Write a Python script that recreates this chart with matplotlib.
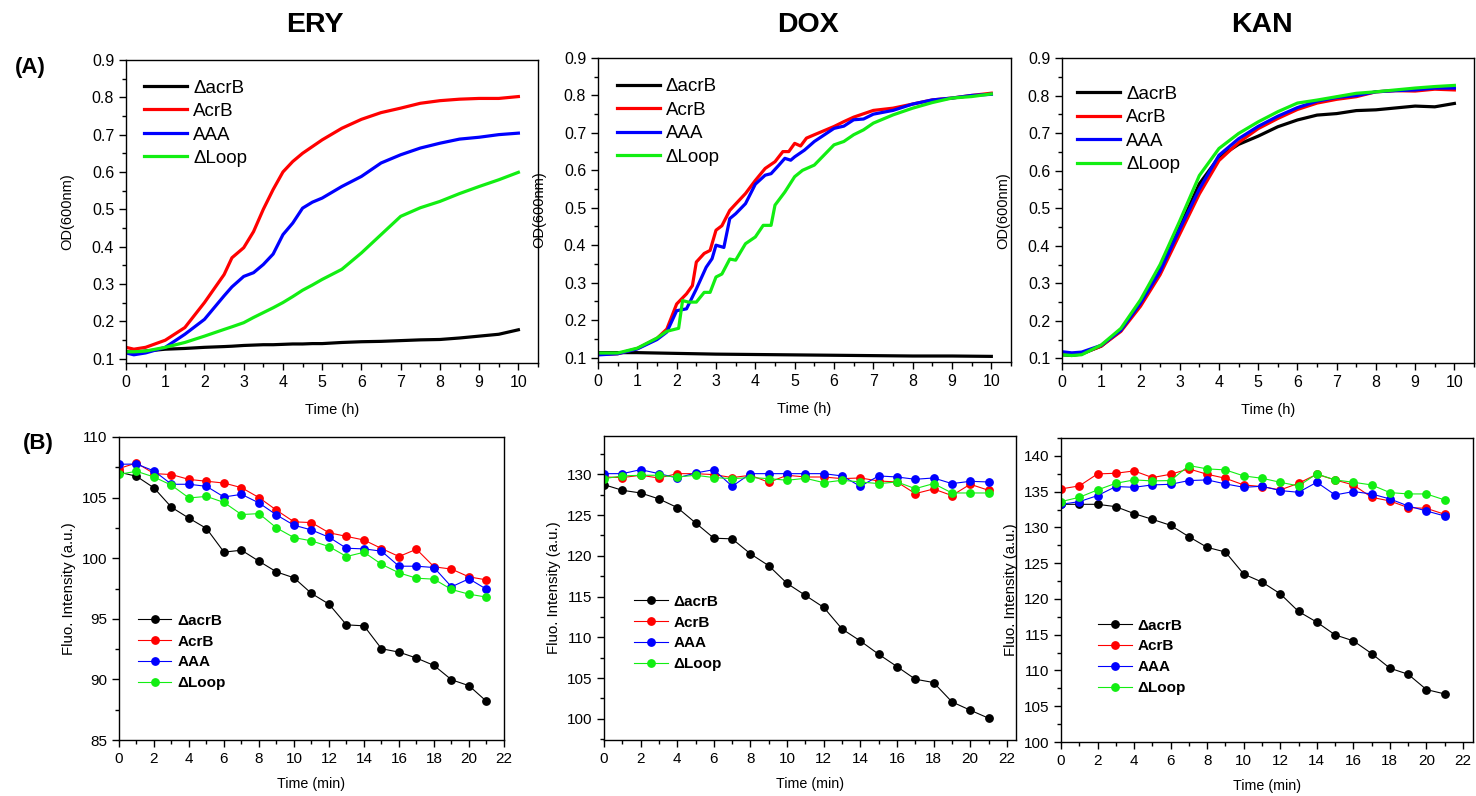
import matplotlib
matplotlib.use("Agg")
import matplotlib.pyplot as plt
from matplotlib.ticker import MultipleLocator

plt.rcParams['font.family'] = ['Liberation Sans', 'DejaVu Sans']

# ---------------- growth curves (A) ----------------
strains = ["\u0394acrB", "AcrB", "AAA", "\u0394Loop"]
colors = ["#000000", "#ff0000", "#0000ff", "#12ee12"]

ery_t = [0, 0.2, 0.5, 1, 1.5, 2, 2.5, 2.7, 3, 3.25, 3.5, 3.75, 4, 4.25, 4.5,
         4.75, 5, 5.5, 6, 6.5, 7, 7.5, 8, 8.5, 9, 9.5, 10]
ery_dacrb = [0.118, 0.117, 0.120, 0.125, 0.127, 0.130, 0.132, 0.133, 0.135, 0.136,
             0.137, 0.137, 0.138, 0.139, 0.139, 0.140, 0.140, 0.143, 0.145, 0.146,
             0.148, 0.150, 0.151, 0.155, 0.160, 0.165, 0.177]
ery_acrb = [0.130, 0.125, 0.130, 0.149, 0.183, 0.250, 0.325, 0.370, 0.397, 0.440,
            0.500, 0.553, 0.600, 0.628, 0.650, 0.668, 0.686, 0.717, 0.741, 0.759,
            0.771, 0.784, 0.791, 0.795, 0.797, 0.797, 0.802]
ery_aaa = [0.115, 0.110, 0.115, 0.130, 0.165, 0.205, 0.268, 0.292, 0.320, 0.330,
           0.352, 0.380, 0.432, 0.463, 0.503, 0.519, 0.530, 0.561, 0.588, 0.624,
           0.646, 0.664, 0.677, 0.688, 0.693, 0.700, 0.704]
ery_dloop = [0.118, 0.118, 0.120, 0.130, 0.143, 0.160, 0.178, 0.185, 0.196, 0.210,
             0.223, 0.236, 0.250, 0.266, 0.283, 0.297, 0.312, 0.339, 0.383, 0.432,
             0.481, 0.504, 0.521, 0.542, 0.561, 0.579, 0.599]

dox_dacrb_t = [0, 1, 2, 3, 4, 5, 6, 7, 8, 9, 10]
dox_dacrb = [0.113, 0.113, 0.111, 0.109, 0.108, 0.107, 0.106, 0.105, 0.104, 0.104, 0.103]
dox_acrb_t = [0, 0.5, 1, 1.5, 1.75, 2, 2.25, 2.4, 2.5, 2.7, 2.85, 3, 3.15, 3.35, 3.5,
              3.75, 4, 4.25, 4.5, 4.7, 4.85, 5, 5.15, 5.3, 5.5, 6, 6.25, 6.5, 7, 7.5,
              8, 8.5, 9, 9.5, 10]
dox_acrb = [0.108, 0.110, 0.124, 0.151, 0.176, 0.243, 0.270, 0.292, 0.355, 0.378,
            0.386, 0.440, 0.452, 0.493, 0.510, 0.538, 0.573, 0.605, 0.623, 0.650,
            0.650, 0.672, 0.665, 0.686, 0.695, 0.717, 0.730, 0.742, 0.760, 0.766,
            0.777, 0.788, 0.793, 0.800, 0.806]
dox_aaa_t = [0, 0.5, 1, 1.5, 1.75, 2, 2.25, 2.5, 2.75, 2.9, 3, 3.2, 3.35, 3.5, 3.75,
             4, 4.25, 4.4, 4.6, 4.75, 4.9, 5, 5.25, 5.5, 6, 6.25, 6.5, 6.75, 7, 7.5,
             8, 8.5, 9, 9.5, 10]
dox_aaa = [0.107, 0.110, 0.123, 0.148, 0.168, 0.225, 0.230, 0.283, 0.341, 0.364,
           0.400, 0.394, 0.471, 0.484, 0.511, 0.563, 0.587, 0.591, 0.614, 0.632,
           0.627, 0.636, 0.654, 0.677, 0.712, 0.718, 0.735, 0.737, 0.750, 0.760,
           0.777, 0.788, 0.793, 0.800, 0.803]
dox_dloop_t = [0, 0.5, 1, 1.5, 1.75, 2.05, 2.15, 2.3, 2.5, 2.7, 2.85, 3, 3.15, 3.35,
               3.5, 3.75, 4, 4.2, 4.4, 4.5, 4.75, 5, 5.2, 5.5, 6, 6.25, 6.5, 6.75, 7,
               7.5, 8, 8.5, 9, 9.5, 10]
dox_dloop = [0.112, 0.112, 0.125, 0.152, 0.170, 0.178, 0.252, 0.248, 0.248, 0.274,
             0.274, 0.315, 0.323, 0.363, 0.360, 0.404, 0.422, 0.453, 0.453, 0.507,
             0.542, 0.583, 0.600, 0.614, 0.668, 0.677, 0.695, 0.708, 0.726, 0.748,
             0.766, 0.781, 0.793, 0.797, 0.804]

kan_t = [0, 0.25, 0.5, 1, 1.5, 2, 2.5, 3, 3.5, 4, 4.5, 5, 5.5, 6, 6.5, 7, 7.5, 8,
         8.5, 9, 9.5, 10]
kan_dacrb = [0.110, 0.108, 0.112, 0.133, 0.175, 0.245, 0.335, 0.449, 0.565, 0.636,
             0.670, 0.692, 0.717, 0.735, 0.748, 0.752, 0.760, 0.762, 0.767, 0.772,
             0.770, 0.779]
kan_acrb = [0.112, 0.110, 0.113, 0.133, 0.172, 0.239, 0.323, 0.431, 0.538, 0.627,
            0.675, 0.712, 0.739, 0.763, 0.780, 0.790, 0.797, 0.810, 0.813, 0.812,
            0.817, 0.815]
kan_aaa = [0.118, 0.115, 0.117, 0.135, 0.175, 0.247, 0.332, 0.444, 0.551, 0.641,
           0.685, 0.718, 0.745, 0.768, 0.785, 0.795, 0.800, 0.810, 0.813, 0.815,
           0.820, 0.820]
kan_dloop = [0.110, 0.108, 0.110, 0.136, 0.180, 0.256, 0.350, 0.466, 0.587, 0.659,
             0.699, 0.730, 0.757, 0.780, 0.788, 0.797, 0.806, 0.810, 0.815, 0.820,
             0.824, 0.827]

# ---------------- fluorescence (B) ----------------
minutes = list(range(22))
fl_ery_dacrb = [107.1, 106.76, 105.8, 104.2, 103.3, 102.45, 100.5, 100.66, 99.75, 98.87,
                98.38, 97.09, 96.21, 94.5, 94.42, 92.53, 92.25, 91.76, 91.15, 89.97,
                89.48, 88.19]
fl_ery_acrb = [107.4, 107.86, 106.98, 106.9, 106.5, 106.35, 106.2, 105.82, 105.0, 103.96,
               103.0, 102.94, 102.1, 101.8, 101.5, 100.8, 100.14, 100.74, 99.29, 99.1,
               98.46, 98.21]
fl_ery_aaa = [107.75, 107.77, 107.2, 106.1, 106.1, 105.93, 105.05, 105.27, 104.56, 103.57,
              102.72, 102.33, 101.73, 100.82, 100.77, 100.58, 99.34, 99.34, 99.23, 97.64,
              98.3, 97.44]
fl_ery_dloop = [106.92, 107.17, 106.7, 106.02, 104.97, 105.1, 104.6, 103.6, 103.68, 102.5,
                101.7, 101.43, 100.96, 100.14, 100.49, 99.5, 98.79, 98.35, 98.27, 97.42,
                97.03, 96.79]

fl_dox_dacrb = [128.73, 128.04, 127.71, 126.98, 125.92, 124.04, 122.16, 122.08, 120.24,
                118.78, 116.61, 115.14, 113.67, 111.02, 109.55, 107.92, 106.41, 104.86,
                104.45, 102.08, 101.06, 100.08]
fl_dox_acrb = [129.67, 129.6, 129.88, 129.55, 130.08, 130.08, 129.96, 129.6, 129.88, 129.02,
               129.88, 129.67, 129.67, 129.47, 129.55, 129.18, 129.06, 127.63, 128.2,
               127.39, 128.78, 128.04]
fl_dox_aaa = [130.08, 130.08, 130.57, 130.08, 129.55, 130.16, 130.57, 128.53, 130.08,
              130.08, 130.08, 130.08, 130.08, 129.8, 128.53, 129.8, 129.67, 129.39,
              129.55, 128.86, 129.14, 129.06]
fl_dox_dloop = [129.47, 129.8, 129.88, 129.88, 129.67, 129.88, 129.6, 129.47, 129.6, 129.47,
                129.27, 129.51, 128.98, 129.27, 129.06, 128.86, 129.06, 128.24, 128.86,
                127.71, 127.71, 127.71]

fl_kan_dacrb = [133.23, 133.23, 133.23, 132.9, 131.93, 131.13, 130.29, 128.7, 127.21,
                126.56, 123.48, 122.36, 120.72, 118.25, 116.76, 114.98, 114.14, 112.37,
                110.32, 109.47, 107.33, 106.72]
fl_kan_acrb = [135.38, 135.8, 137.48, 137.57, 137.9, 136.97, 137.43, 138.18, 137.43,
               136.87, 135.94, 135.71, 135.24, 136.17, 137.43, 136.64, 135.94, 134.21,
               133.7, 132.77, 132.67, 131.83]
fl_kan_aaa = [133.23, 133.6, 134.45, 135.71, 135.61, 135.94, 136.03, 136.55, 136.64,
              136.08, 135.61, 135.75, 135.15, 134.91, 136.31, 134.54, 135.01, 134.68,
              133.98, 133.0, 132.3, 131.6]
fl_kan_dloop = [133.6, 134.21, 135.24, 136.17, 136.64, 136.5, 136.55, 138.65, 138.18,
                138.04, 137.2, 136.87, 136.31, 135.8, 137.48, 136.64, 136.31, 135.94,
                134.87, 134.68, 134.68, 133.84]

drugs = ["ERY", "DOX", "KAN"]

W, H = 1476, 796
fig = plt.figure(figsize=(W / 100, H / 100), dpi=100)


def axes_px(left, top, right, bottom):
    return fig.add_axes([left / W, 1 - bottom / H, (right - left) / W, (bottom - top) / H])


def style_axes(ax, tick_size):
    ax.tick_params(which='both', direction='out', top=False, right=False,
                   labelsize=tick_size, width=1.0)
    ax.tick_params(which='major', length=5)
    ax.tick_params(which='minor', length=3)
    for sp in ax.spines.values():
        sp.set_linewidth(1.0)


# ----- row A -----
growth = [
    [(ery_t, ery_dacrb), (ery_t, ery_acrb), (ery_t, ery_aaa), (ery_t, ery_dloop)],
    [(dox_dacrb_t, dox_dacrb), (dox_acrb_t, dox_acrb), (dox_aaa_t, dox_aaa),
     (dox_dloop_t, dox_dloop)],
    [(kan_t, kan_dacrb), (kan_t, kan_acrb), (kan_t, kan_aaa), (kan_t, kan_dloop)],
]
top_boxes = [(126, 60, 538, 363), (598, 58, 1011, 362), (1062, 58, 1474, 363)]
top_leg = [(0.044, 0.936), (0.045, 0.934), (0.036, 0.910)]
title_x = [315, 808, 1262]

for i, (box, series) in enumerate(zip(top_boxes, growth)):
    ax = axes_px(*box)
    for (t, v), name, c in zip(series, strains, colors):
        ax.plot(t, v, color=c, lw=2.3, label=name, solid_joinstyle='round')
    ax.set_xlim(0, 10.5)
    ax.set_ylim(0.088, 0.9)
    ax.xaxis.set_major_locator(MultipleLocator(1))
    ax.xaxis.set_minor_locator(MultipleLocator(0.5))
    ax.yaxis.set_minor_locator(MultipleLocator(0.05))
    ax.set_yticks([0.1, 0.2, 0.3, 0.4, 0.5, 0.6, 0.7, 0.8, 0.9])
    ax.set_yticklabels(["0.1", "0.2", "0.3", "0.4", "0.5", "0.6", "0.7", "0.8", "0.9"])
    style_axes(ax, 11.5)
    ax.set_xlabel("Time (h)", fontsize=10.5, labelpad=9.5)
    ax.set_ylabel("OD(600nm)", fontsize=10.5, labelpad=13)
    ax.legend(loc='upper left', bbox_to_anchor=top_leg[i], frameon=False,
              fontsize=13.5, handlelength=2.3, handletextpad=0.33,
              labelspacing=0.34, borderpad=0, borderaxespad=0)
    fig.text(title_x[i] / W, 1 - 25 / H, drugs[i],
             fontsize=20.5, fontweight='bold', ha='center', va='center')

# ----- row B -----
fluor = [
    [fl_ery_dacrb, fl_ery_acrb, fl_ery_aaa, fl_ery_dloop],
    [fl_dox_dacrb, fl_dox_acrb, fl_dox_aaa, fl_dox_dloop],
    [fl_kan_dacrb, fl_kan_acrb, fl_kan_aaa, fl_kan_dloop],
]
bot_boxes = [(119, 437, 504, 740), (604, 436, 1016, 740), (1061, 438, 1473, 742)]
bot_xlim = [(0, 22), (0, 22.5), (0, 22.55)]
bot_ylim = [(85, 110), (97.4, 134.7), (100, 142.5)]
bot_leg = [(0.049, 0.417), (0.073, 0.478), (0.09, 0.406)]

for i, (box, series) in enumerate(zip(bot_boxes, fluor)):
    ax = axes_px(*box)
    for v, name, c in zip(series, strains, colors):
        ax.plot(minutes, v, color=c, lw=0.8, marker='o', ms=5.3, mec=c, mfc=c,
                label=name)
    ax.set_xlim(*bot_xlim[i])
    ax.set_ylim(*bot_ylim[i])
    ax.xaxis.set_major_locator(MultipleLocator(2))
    ax.xaxis.set_minor_locator(MultipleLocator(1))
    ax.yaxis.set_major_locator(MultipleLocator(5))
    ax.yaxis.set_minor_locator(MultipleLocator(2.5))
    style_axes(ax, 11)
    ax.set_xlabel("Time (min)", fontsize=10.3, labelpad=8)
    ax.set_ylabel("Fluo. Intensity (a.u.)", fontsize=10.8, labelpad=4)
    ax.legend(loc='upper left', bbox_to_anchor=bot_leg[i], frameon=False,
              prop={'size': 11, 'weight': 'bold'}, handlelength=2.2,
              handletextpad=0.4, labelspacing=0.45, borderpad=0,
              borderaxespad=0, numpoints=1)

fig.text(30 / W, 1 - 68 / H, "(A)", fontsize=16, fontweight='bold',
         ha='center', va='center')
fig.text(38 / W, 1 - 443 / H, "(B)", fontsize=16, fontweight='bold',
         ha='center', va='center')

fig.savefig("out.png", dpi=100)
